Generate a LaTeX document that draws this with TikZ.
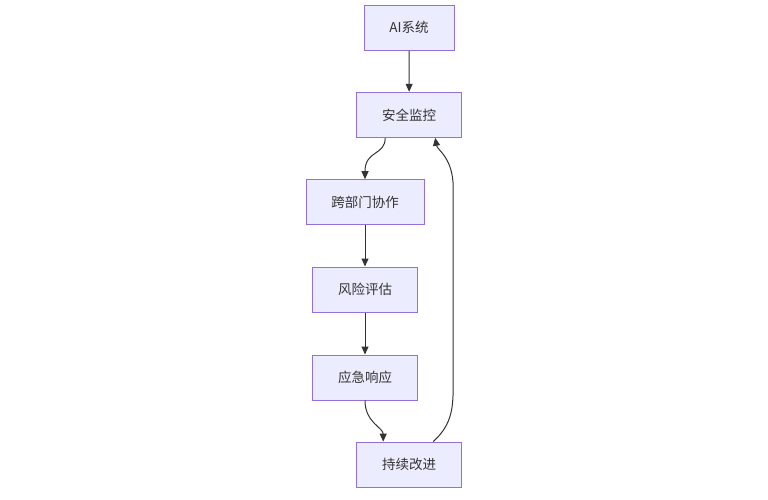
\documentclass[tikz,border=0pt]{standalone}
\usepackage{fontspec}
\setmainfont{Noto Sans CJK SC}
\usetikzlibrary{arrows.meta,calc}
\definecolor{boxfill}{HTML}{ECECFF}
\definecolor{boxline}{HTML}{9370DB}
\definecolor{edge}{HTML}{333333}
\tikzset{
  flowbox/.style={draw=boxline, fill=boxfill, line width=1pt, minimum height=45pt, inner sep=0pt,
    font=\fontsize{13.5}{16}\selectfont, text=edge},
  conn/.style={draw=edge, line width=1pt, -{Triangle[length=8pt,width=7pt]}}
}
\begin{document}
\begin{tikzpicture}[x=1pt,y=-1pt]
\useasboundingbox (0,0) rectangle (768,499);
\node[flowbox, minimum width=90pt] (ai) at (409,27.8) {AI系统};
\node[flowbox, minimum width=105pt] (mon) at (409.2,114.8) {安全监控};
\node[flowbox, minimum width=118pt] (col) at (365,202.2) {跨部门协作};
\node[flowbox, minimum width=104.6pt] (risk) at (365,289.5) {风险评估};
\node[flowbox, minimum width=104.6pt] (resp) at (365,377.5) {应急响应};
\node[flowbox, minimum width=105pt] (imp) at (409.2,464.6) {持续改进};
\draw[conn] (ai) -- (mon);
\draw[conn] ([xshift=-24pt]mon.south) .. controls ([xshift=-24pt,yshift=-18pt]mon.south) and (col.north |- 0,150) .. (col.north);
\draw[conn] (col) -- (risk);
\draw[conn] (risk) -- (resp);
\draw[conn] (resp.south) .. controls ([yshift=-22pt]resp.south) and ([xshift=-26pt,yshift=14pt]imp.north) .. ([xshift=-26pt]imp.north);
\draw[conn] ([xshift=24pt]imp.north) .. controls ([xshift=44pt,yshift=18pt]imp.north) and ([xshift=44pt,yshift=36pt]imp.north) .. ([xshift=44pt,yshift=60pt]imp.north)
  -- ([xshift=44pt,yshift=-50pt]mon.south) .. controls ([xshift=44pt,yshift=-20pt]mon.south) and ([xshift=28pt,yshift=-12pt]mon.south) .. ([xshift=26pt]mon.south);
\end{tikzpicture}
\end{document}
